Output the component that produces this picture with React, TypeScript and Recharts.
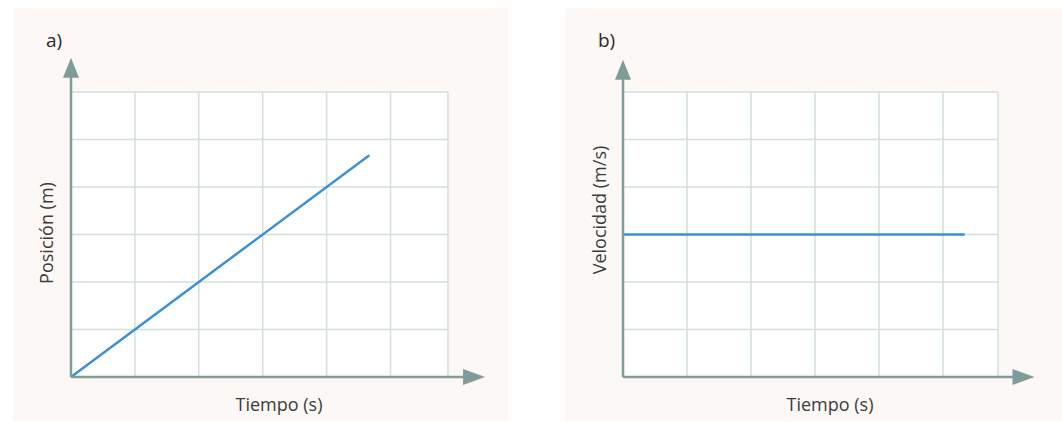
import React from "react";
import { LineChart, Line, XAxis, YAxis, CartesianGrid, ReferenceLine, ReferenceDot } from "recharts";

// a) posición frente a tiempo (MRU)
const posicionData = [
  { t: 0, x: 0 },
  { t: 4.67, x: 4.67 },
];

// b) velocidad frente a tiempo (constante)
const velocidadData = [
  { t: 0, v: 3 },
  { t: 5.34, v: 3 },
];

const gridYTicks = [0, 1, 2, 3, 4, 5, 6];
const gridXTicksA = [0, 1, 2, 3, 4, 5, 5.9];
const gridXTicksB = [0, 1, 2, 3, 4, 5, 5.86];

const AXIS = "#7f9d98";
const GRID = "#d3dfdf";
const LINE = "#3d90d3";
const BG = "#fbf8f5";
const FONT = "'Open Sans', sans-serif";

const arrowRight = (props: any) => (
  <polygon
    points={`${props.cx},${props.cy} ${props.cx - 22},${props.cy - 8} ${props.cx - 22},${props.cy + 8}`}
    fill={AXIS}
  />
);
const arrowUp = (props: any) => (
  <polygon
    points={`${props.cx},${props.cy} ${props.cx - 8},${props.cy + 20} ${props.cx + 8},${props.cy + 20}`}
    fill={AXIS}
  />
);

type PanelProps = {
  data: any[];
  dataKey: string;
  xTicks: number[];
  xMax: number;
  xArrow: number;
  yArrow: number;
  width: number;
  margin: { top: number; left: number; right: number; bottom: number };
};

function Panel({ data, dataKey, xTicks, xMax, xArrow, yArrow, width, margin }: PanelProps) {
  return (
    <LineChart width={width} height={422} data={data} margin={margin}>
      <CartesianGrid fill="#ffffff" stroke={GRID} strokeWidth={1.5} />
      <XAxis type="number" dataKey="t" domain={[0, xMax]} ticks={xTicks} hide />
      <YAxis type="number" domain={[0, 6]} ticks={gridYTicks} hide />
      <Line
        type="linear"
        dataKey={dataKey}
        stroke={LINE}
        strokeWidth={2.5}
        dot={false}
        isAnimationActive={false}
      />
      <ReferenceLine
        segment={[{ x: 0, y: 0 }, { x: xArrow - 0.3, y: 0 }]}
        stroke={AXIS}
        strokeWidth={2.5}
        ifOverflow="visible"
      />
      <ReferenceLine
        segment={[{ x: 0, y: 0 }, { x: 0, y: yArrow - 0.35 }]}
        stroke={AXIS}
        strokeWidth={2.5}
        ifOverflow="visible"
      />
      <ReferenceDot x={xArrow} y={0} r={0} ifOverflow="visible" shape={arrowRight} />
      <ReferenceDot x={0} y={yArrow} r={0} ifOverflow="visible" shape={arrowUp} />
    </LineChart>
  );
}

const textStyle: React.CSSProperties = {
  position: "absolute",
  fontFamily: FONT,
  fontSize: 18,
  color: "#3c3c3c",
  whiteSpace: "nowrap",
};

export default function App() {
  return (
    <div style={{ position: "absolute", left: 0, top: 0, width: 1062, height: 422, background: "#ffffff" }}>
      <div style={{ position: "absolute", left: 13, top: 8, width: 495, height: 413, background: BG }} />
      <div style={{ position: "absolute", left: 565, top: 8, width: 497, height: 413, background: BG }} />

      <div style={{ position: "absolute", left: 0, top: 0 }}>
        <Panel
          data={posicionData}
          dataKey="x"
          xTicks={gridXTicksA}
          xMax={5.9}
          xArrow={6.48}
          yArrow={6.72}
          width={530}
          margin={{ top: 92, left: 71, right: 82, bottom: 45 }}
        />
      </div>
      <div style={{ position: "absolute", left: 530, top: 0 }}>
        <Panel
          data={velocidadData}
          dataKey="v"
          xTicks={gridXTicksB}
          xMax={5.86}
          xArrow={6.43}
          yArrow={6.68}
          width={532}
          margin={{ top: 92, left: 93, right: 64, bottom: 45 }}
        />
      </div>

      <div style={{ ...textStyle, left: 46, top: 27, fontSize: 19, color: "#2a2a2a" }}>a)</div>
      <div style={{ ...textStyle, left: 598, top: 27, fontSize: 19, color: "#2a2a2a" }}>b)</div>

      <div style={{ ...textStyle, left: 279, top: 392, transform: "translateX(-50%)" }}>Tiempo (s)</div>
      <div style={{ ...textStyle, left: 830, top: 392, transform: "translateX(-50%)" }}>Tiempo (s)</div>

      <div style={{ ...textStyle, left: 46, top: 233, transform: "translate(-50%, -50%) rotate(-90deg)" }}>
        Posición (m)
      </div>
      <div style={{ ...textStyle, left: 599, top: 210, transform: "translate(-50%, -50%) rotate(-90deg)" }}>
        Velocidad (m/s)
      </div>
    </div>
  );
}
